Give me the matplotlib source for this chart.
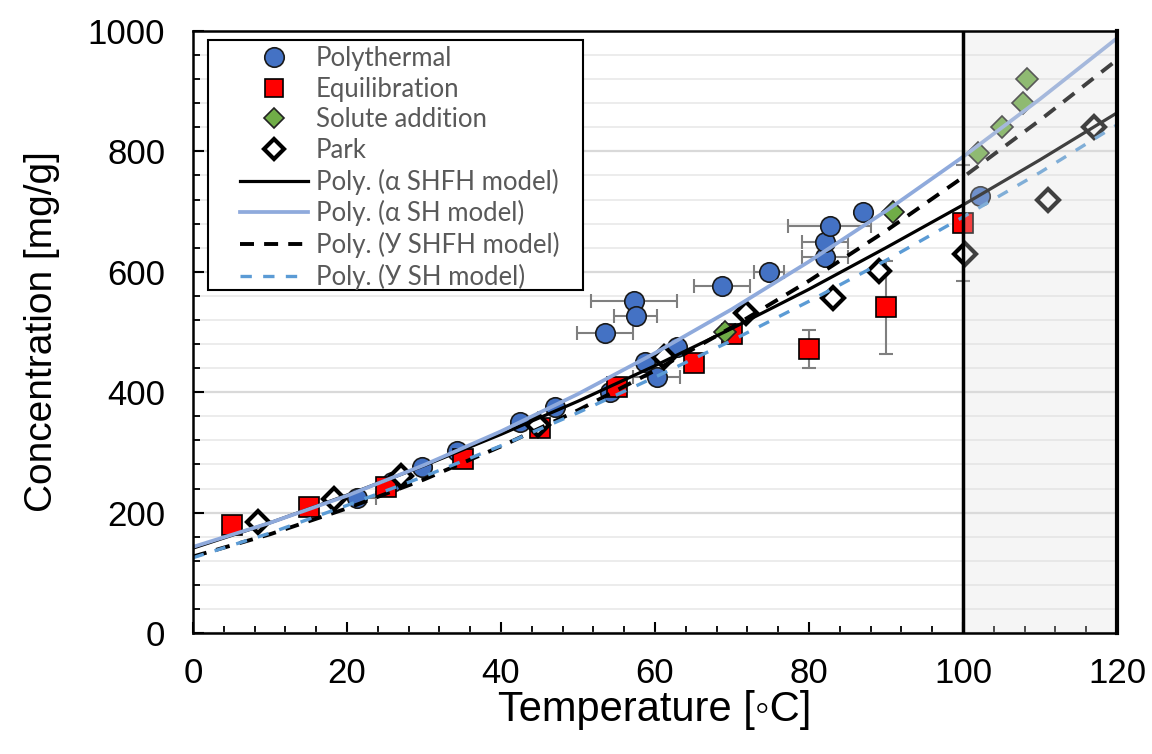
import matplotlib
matplotlib.use("Agg")
import matplotlib.pyplot as plt
from matplotlib.lines import Line2D
from matplotlib.patches import Rectangle
from matplotlib.ticker import MultipleLocator

# ---------------- data ----------------
poly_T = [21.3, 25.8, 29.7, 34.3, 42.5, 47.0, 54.2, 53.5, 57.3, 57.5, 58.7, 60.2,
          62.8, 68.7, 74.8, 82.1, 82.1, 82.7, 87.0, 102.2]
poly_C = [224, 251, 275, 303, 351, 376, 400, 498, 551, 527, 450, 425,
          475, 576, 600, 625, 650, 676, 700, 726]
poly_xerr = [2.5, 0, 0, 0, 0, 0, 0, 3.6, 5.6, 2.8, 0, 3.0,
             0, 3.6, 2.0, 3.0, 3.0, 5.4, 0, 0]

equi_T = [5, 15, 25, 35, 45, 55, 65, 70, 80, 90, 100]
equi_C = [179, 209, 243, 289, 341, 408, 448, 496, 472, 541, 681]
equi_yerr = [0, 0, 0, 0, 0, 0, 0, 0, 31, 77, 97]

solute_T = [69.1, 90.9, 102.0, 105.0, 107.8, 108.3]
solute_C = [500, 700, 797, 840, 880, 920]

park_T = [8.5, 18.3, 27.0, 44.8, 61.2, 71.8, 83.1, 89.1, 100.3, 111.0, 117.0]
park_C = [184, 222, 261, 345, 458, 531, 556, 601, 630, 719, 840]

fit_T = [0, 10, 20, 30, 40, 50, 60, 70, 80, 90, 100, 110, 120]
fit_a_shfh = [141, 183, 229, 278, 330, 385, 444, 506, 571, 640, 711, 786, 864]
fit_a_sh = [143, 183, 228, 279, 335, 397, 465, 538, 617, 701, 791, 887, 988]
fit_u_shfh = [127, 164, 207, 255, 310, 370, 436, 508, 585, 668, 757, 852, 952]
fit_u_sh = [125, 166, 212, 260, 311, 366, 425, 486, 551, 619, 691, 765, 844]

labels = ["Polythermal", "Equilibration", "Solute addition", "Park",
          "Poly. (α SHFH model)", "Poly. (α SH model)",
          "Poly. (У SHFH model)", "Poly. (У SH model)"]

# ---------------- figure ----------------
W, H = 1152, 754
fig = plt.figure(figsize=(W / 100, H / 100), dpi=100)
ax = fig.add_axes([193 / W, 1 - 633 / H, (1117 - 193) / W, (633 - 31) / H])

ax.set_xlim(0, 120)
ax.set_ylim(0, 1000)

ax.xaxis.set_major_locator(MultipleLocator(20))
ax.xaxis.set_minor_locator(MultipleLocator(4))
ax.yaxis.set_major_locator(MultipleLocator(200))
ax.yaxis.set_minor_locator(MultipleLocator(40))
ax.grid(which="major", axis="y", color="#d9d9d9", lw=1.6, zorder=0)
ax.grid(which="minor", axis="y", color="#ececec", lw=1.4, zorder=0)
ax.set_axisbelow(True)

errc = "#7f7f7f"
for t, c, xe in zip(poly_T, poly_C, poly_xerr):
    if xe > 0:
        ax.errorbar([t], [c], xerr=[xe], fmt="none", ecolor=errc, elinewidth=1.5,
                    capsize=5, capthick=1.5, zorder=2)
for t, c, ye in zip(equi_T, equi_C, equi_yerr):
    if ye > 0:
        ax.errorbar([t], [c], yerr=[ye], fmt="none", ecolor=errc, elinewidth=1.5,
                    capsize=5, capthick=1.5, zorder=2)

MS_C, MS_D = 14, 11.5
ax.plot(poly_T, poly_C, ls="none", marker="o", ms=MS_C, mfc="#4472c4",
        mec="#1a1a1a", mew=1.2, zorder=3)
ax.plot(equi_T, equi_C, ls="none", marker="s", ms=MS_C, mfc="#ff0000",
        mec="#000000", mew=1.2, zorder=4)
ax.plot(solute_T, solute_C, ls="none", marker="D", ms=MS_D, mfc="#70ad47",
        mec="#222222", mew=1.2, zorder=5)
ax.plot(park_T, park_C, ls="none", marker="D", ms=MS_D, mfc="white",
        mec="black", mew=3.0, zorder=6)

ax.plot(fit_T, fit_a_shfh, color="black", lw=2.3, zorder=7)
ax.plot(fit_T, fit_a_sh, color="#8faadc", lw=2.7, zorder=7)
ax.plot(fit_T, fit_u_shfh, color="black", lw=2.8, ls=(0, (3.6, 2.6)), zorder=7)
ax.plot(fit_T, fit_u_sh, color="#5b9bd5", lw=2.4, ls=(0, (3.4, 3.4)), zorder=7)

ax.axvspan(100, 120, facecolor="#dddddd", alpha=0.29, lw=0, zorder=8)
ax.axvline(100, color="black", lw=2.5, zorder=9)

for s in ax.spines.values():
    s.set_linewidth(1.8)
    s.set_zorder(10)
ax.spines["right"].set_linewidth(3.0)
ax.tick_params(which="major", direction="in", length=8, width=1.5,
               labelsize=25, pad=17)
ax.tick_params(which="minor", direction="in", length=5, width=1.3)
ax.tick_params(axis="y", which="major", pad=20)
for lab in ax.get_xticklabels() + ax.get_yticklabels():
    lab.set_fontfamily(["Liberation Sans", "DejaVu Sans"])

ax.set_xlabel("Temperature [◦C]", fontsize=30,
              fontfamily=["Liberation Sans", "DejaVu Sans"], labelpad=0)
ax.set_ylabel("Concentration [mg/g]", fontsize=28,
              fontfamily=["Liberation Sans", "DejaVu Sans"], labelpad=20)

handles = [
    Line2D([], [], ls="none", marker="o", ms=MS_C, mfc="#4472c4", mec="#1a1a1a", mew=1.2),
    Line2D([], [], ls="none", marker="s", ms=MS_C - 1, mfc="#ff0000", mec="black", mew=1.2),
    Line2D([], [], ls="none", marker="D", ms=MS_D - 1, mfc="#70ad47", mec="#222222", mew=1.2),
    Line2D([], [], ls="none", marker="D", ms=MS_D - 1, mfc="white", mec="black", mew=3.0),
    Line2D([], [], color="black", lw=2.3),
    Line2D([], [], color="#8faadc", lw=2.7),
    Line2D([], [], color="black", lw=2.8, ls=(0, (3.6, 2.6))),
    Line2D([], [], color="#5b9bd5", lw=2.4, ls=(0, (3.4, 3.4))),
]
leg_box = Rectangle((208 / W, 1 - 290 / H), (583 - 208) / W, (290 - 40) / H,
                    transform=fig.transFigure, facecolor="white",
                    edgecolor="black", lw=1.5, zorder=20)
fig.add_artist(leg_box)
leg = fig.legend(handles, labels, loc="upper left",
                 bbox_to_anchor=(240 / W, 1 - 46 / H), bbox_transform=fig.transFigure,
                 frameon=False, borderpad=0, borderaxespad=0,
                 handlelength=2.65, handletextpad=0.3, labelspacing=0.22,
                 prop={"family": ["Lato", "DejaVu Sans"], "size": 18.5})
leg.set_zorder(21)
for t in leg.get_texts():
    t.set_color("#595959")

fig.savefig("out.png", dpi=100)
